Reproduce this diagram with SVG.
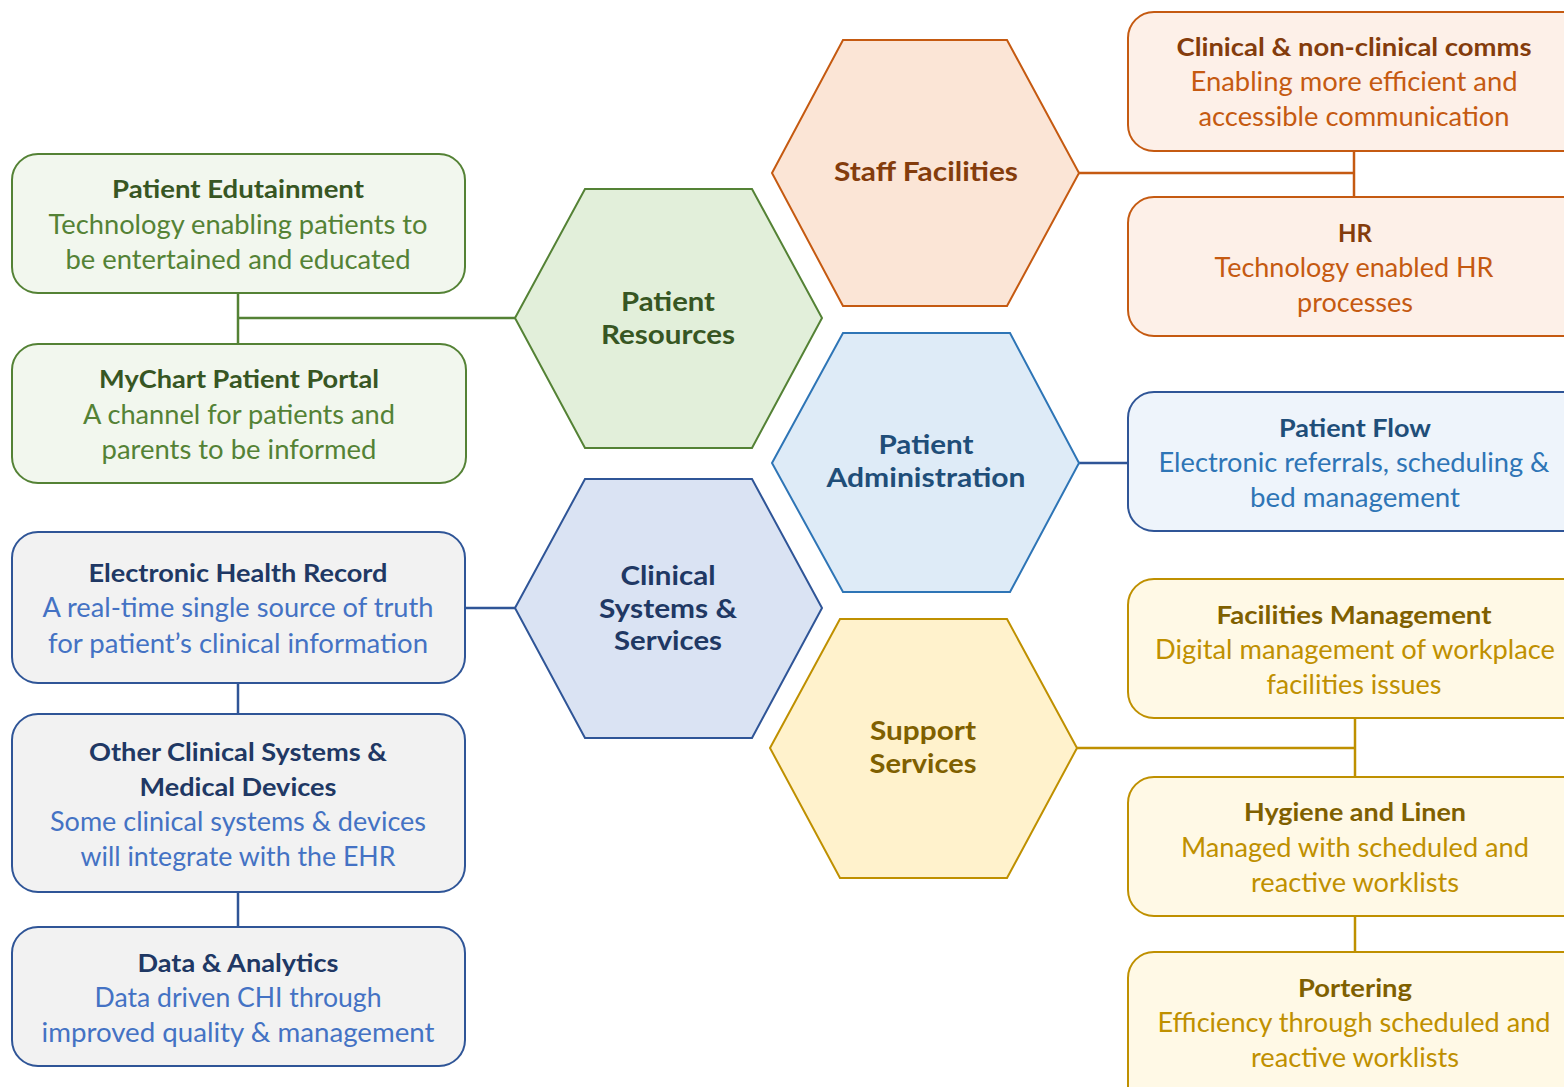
<svg xmlns="http://www.w3.org/2000/svg" width="1564" height="1087" viewBox="0 0 1564 1087">
<style>
text{font-family:"Lato","Open Sans","Liberation Sans",sans-serif;text-anchor:middle}
.t{font-weight:bold;font-size:25px}
.b{font-size:26px}
.h{font-weight:bold;font-size:27px}
.box{stroke-width:2}
.hex{stroke-width:2}
.g .box{fill:#f2f7ee;stroke:#548235}.g .hex{fill:#e2efda;stroke:#548235}.g .t,.g .h{fill:#375623}.g .b{fill:#548235}
.o .box{fill:#fdf0e8;stroke:#c55a11}.o .hex{fill:#fbe5d6;stroke:#c55a11}.o .t,.o .h{fill:#843c0c}.o .b{fill:#c55a11}
.pb .box{fill:#eef4fb;stroke:#2f5597}.pb .hex{fill:#deebf7;stroke:#2e75b6}.pb .t,.pb .h{fill:#1f4e79}.pb .b{fill:#2e75b6}
.cb .box{fill:#f2f2f2;stroke:#2f5597}.cb .hex{fill:#dae3f3;stroke:#2f5597}.cb .t,.cb .h{fill:#203864}.cb .b{fill:#4472c4}
.y .box{fill:#fff9e6;stroke:#bf9000}.y .hex{fill:#fff2cc;stroke:#bf9000}.y .t,.y .h{fill:#7f6000}.y .b{fill:#bf9000}
#connectors line{stroke-width:2.5}
</style>
<rect width="1564" height="1087" fill="#ffffff"/>
<g id="connectors">
<line x1="238" y1="293" x2="238" y2="344" stroke="#548235"/>
<line x1="238" y1="318" x2="515" y2="318" stroke="#548235"/>
<line x1="465" y1="608" x2="515" y2="608" stroke="#2f5597"/>
<line x1="238" y1="683" x2="238" y2="714" stroke="#2f5597"/>
<line x1="238" y1="892" x2="238" y2="927" stroke="#2f5597"/>
<line x1="1079" y1="173" x2="1354" y2="173" stroke="#c55a11"/>
<line x1="1354" y1="151" x2="1354" y2="197" stroke="#c55a11"/>
<line x1="1079" y1="463" x2="1128" y2="463" stroke="#2f5597"/>
<line x1="1077" y1="748" x2="1355" y2="748" stroke="#bf9000"/>
<line x1="1355" y1="718" x2="1355" y2="777" stroke="#bf9000"/>
<line x1="1355" y1="916" x2="1355" y2="952" stroke="#bf9000"/>
</g>
<g id="patient-edutainment" class="g">
<rect class="box" x="12" y="154" width="453" height="139" rx="26"/>
<text class="t" x="238" y="198" textLength="252" lengthAdjust="spacingAndGlyphs">Patient Edutainment</text>
<text class="b" x="238" y="234" textLength="379" lengthAdjust="spacingAndGlyphs">Technology enabling patients to</text>
<text class="b" x="238" y="269" textLength="345" lengthAdjust="spacingAndGlyphs">be entertained and educated</text>
</g>
<g id="mychart" class="g">
<rect class="box" x="12" y="344" width="454" height="139" rx="26"/>
<text class="t" x="239" y="388" textLength="280" lengthAdjust="spacingAndGlyphs">MyChart Patient Portal</text>
<text class="b" x="239" y="424" textLength="312" lengthAdjust="spacingAndGlyphs">A channel for patients and</text>
<text class="b" x="239" y="459" textLength="275" lengthAdjust="spacingAndGlyphs">parents to be informed</text>
</g>
<g id="patient-resources" class="g">
<polygon class="hex" points="515,318 585,189 752,189 822,318 752,448 585,448"/>
<text class="h" x="668" y="311" textLength="94" lengthAdjust="spacingAndGlyphs">Patient</text>
<text class="h" x="668" y="344" textLength="134" lengthAdjust="spacingAndGlyphs">Resources</text>
</g>
<g id="staff-facilities" class="o">
<polygon class="hex" points="772,173 843,40 1007,40 1079,173 1007,306 843,306"/>
<text class="h" x="926" y="181" textLength="184" lengthAdjust="spacingAndGlyphs">Staff Facilities</text>
</g>
<g id="clinical-comms" class="o">
<rect class="box" x="1128" y="12" width="460" height="139" rx="26"/>
<text class="t" x="1354" y="56" textLength="355" lengthAdjust="spacingAndGlyphs">Clinical &amp; non-clinical comms</text>
<text class="b" x="1354" y="91" textLength="327" lengthAdjust="spacingAndGlyphs">Enabling more efficient and</text>
<text class="b" x="1354" y="126" textLength="311" lengthAdjust="spacingAndGlyphs">accessible communication</text>
</g>
<g id="hr" class="o">
<rect class="box" x="1128" y="197" width="460" height="139" rx="26"/>
<text class="t" x="1355" y="242" textLength="34" lengthAdjust="spacingAndGlyphs">HR</text>
<text class="b" x="1354" y="277" textLength="279" lengthAdjust="spacingAndGlyphs">Technology enabled HR</text>
<text class="b" x="1355" y="312" textLength="116" lengthAdjust="spacingAndGlyphs">processes</text>
</g>
<g id="patient-administration" class="pb">
<polygon class="hex" points="772,463 843,333 1010,333 1079,463 1010,592 843,592"/>
<text class="h" x="926" y="454" textLength="95" lengthAdjust="spacingAndGlyphs">Patient</text>
<text class="h" x="926" y="487" textLength="199" lengthAdjust="spacingAndGlyphs">Administration</text>
</g>
<g id="patient-flow" class="pb">
<rect class="box" x="1128" y="392" width="460" height="139" rx="26"/>
<text class="t" x="1355" y="437" textLength="152" lengthAdjust="spacingAndGlyphs">Patient Flow</text>
<text class="b" x="1354" y="472" textLength="391" lengthAdjust="spacingAndGlyphs">Electronic referrals, scheduling &amp;</text>
<text class="b" x="1355" y="507" textLength="210" lengthAdjust="spacingAndGlyphs">bed management</text>
</g>
<g id="clinical-systems" class="cb">
<polygon class="hex" points="515,608 585,479 752,479 822,608 752,738 585,738"/>
<text class="h" x="668" y="585" textLength="95" lengthAdjust="spacingAndGlyphs">Clinical</text>
<text class="h" x="668" y="618" textLength="138" lengthAdjust="spacingAndGlyphs">Systems &amp;</text>
<text class="h" x="668" y="650" textLength="108" lengthAdjust="spacingAndGlyphs">Services</text>
</g>
<g id="ehr" class="cb">
<rect class="box" x="12" y="532" width="453" height="151" rx="26"/>
<text class="t" x="238" y="582" textLength="299" lengthAdjust="spacingAndGlyphs">Electronic Health Record</text>
<text class="b" x="238" y="617" textLength="391" lengthAdjust="spacingAndGlyphs">A real-time single source of truth</text>
<text class="b" x="238" y="653" textLength="380" lengthAdjust="spacingAndGlyphs">for patient’s clinical information</text>
</g>
<g id="other-clinical" class="cb">
<rect class="box" x="12" y="714" width="453" height="178" rx="26"/>
<text class="t" x="238" y="761" textLength="298" lengthAdjust="spacingAndGlyphs">Other Clinical Systems &amp;</text>
<text class="t" x="238" y="796" textLength="197" lengthAdjust="spacingAndGlyphs">Medical Devices</text>
<text class="b" x="238" y="831" textLength="376" lengthAdjust="spacingAndGlyphs">Some clinical systems &amp; devices</text>
<text class="b" x="238" y="866" textLength="315" lengthAdjust="spacingAndGlyphs">will integrate with the EHR</text>
</g>
<g id="data-analytics" class="cb">
<rect class="box" x="12" y="927" width="453" height="139" rx="26"/>
<text class="t" x="238" y="972" textLength="201" lengthAdjust="spacingAndGlyphs">Data &amp; Analytics</text>
<text class="b" x="238" y="1007" textLength="287" lengthAdjust="spacingAndGlyphs">Data driven CHI through</text>
<text class="b" x="238" y="1042" textLength="393" lengthAdjust="spacingAndGlyphs">improved quality &amp; management</text>
</g>
<g id="support-services" class="y">
<polygon class="hex" points="770,748 840,619 1007,619 1077,748 1007,878 840,878"/>
<text class="h" x="923" y="740" textLength="106" lengthAdjust="spacingAndGlyphs">Support</text>
<text class="h" x="923" y="773" textLength="107" lengthAdjust="spacingAndGlyphs">Services</text>
</g>
<g id="facilities-management" class="y">
<rect class="box" x="1128" y="579" width="460" height="139" rx="26"/>
<text class="t" x="1354" y="624" textLength="275" lengthAdjust="spacingAndGlyphs">Facilities Management</text>
<text class="b" x="1355" y="659" textLength="400" lengthAdjust="spacingAndGlyphs">Digital management of workplace</text>
<text class="b" x="1354" y="694" textLength="175" lengthAdjust="spacingAndGlyphs">facilities issues</text>
</g>
<g id="hygiene-linen" class="y">
<rect class="box" x="1128" y="777" width="460" height="139" rx="26"/>
<text class="t" x="1355" y="821" textLength="222" lengthAdjust="spacingAndGlyphs">Hygiene and Linen</text>
<text class="b" x="1355" y="857" textLength="348" lengthAdjust="spacingAndGlyphs">Managed with scheduled and</text>
<text class="b" x="1355" y="892" textLength="208" lengthAdjust="spacingAndGlyphs">reactive worklists</text>
</g>
<g id="portering" class="y">
<rect class="box" x="1128" y="952" width="460" height="160" rx="26"/>
<text class="t" x="1355" y="997" textLength="114" lengthAdjust="spacingAndGlyphs">Portering</text>
<text class="b" x="1354" y="1032" textLength="393" lengthAdjust="spacingAndGlyphs">Efficiency through scheduled and</text>
<text class="b" x="1355" y="1067" textLength="208" lengthAdjust="spacingAndGlyphs">reactive worklists</text>
</g>
</svg>
